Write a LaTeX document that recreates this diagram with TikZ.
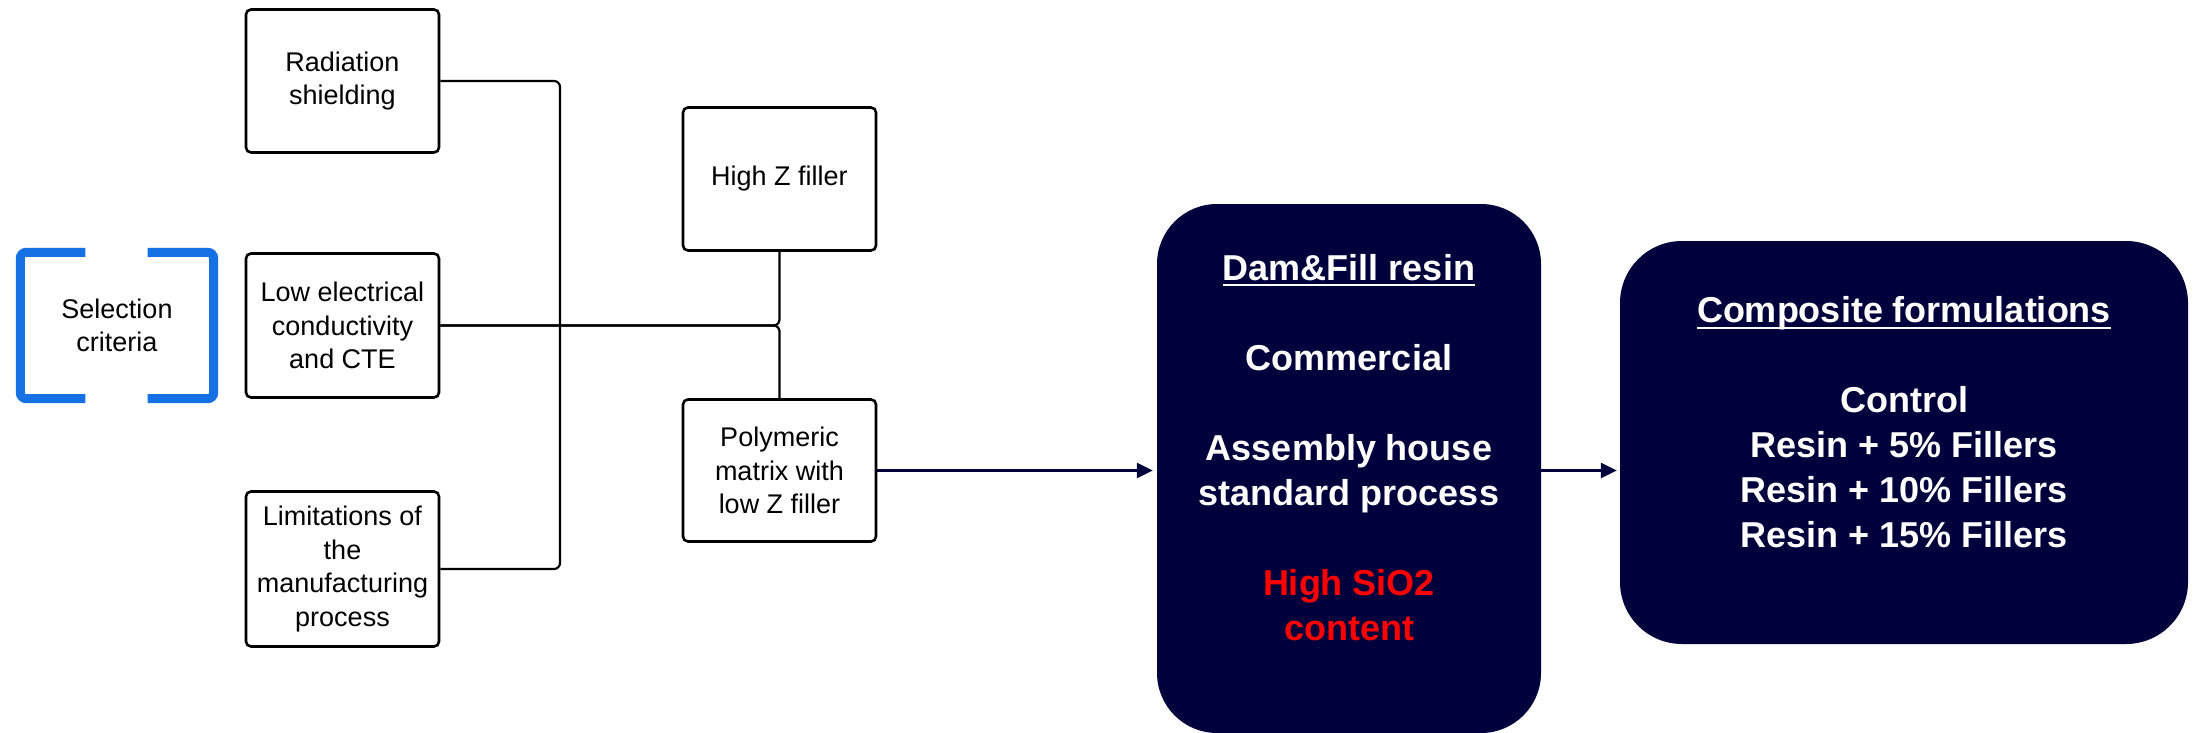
\documentclass[tikz,border=0pt]{standalone}
\usepackage{fontspec}
\setmainfont{Liberation Sans}
\usetikzlibrary{arrows.meta,calc}
\definecolor{navy}{RGB}{0,0,60}
\definecolor{bracketblue}{RGB}{22,114,228}
\definecolor{alertred}{RGB}{255,0,0}
% heading with a rule drawn a fixed distance under the baseline
\newcommand\ulbar[2]{\setbox0\hbox{#2}\rlap{\rule[-#1]{\wd0}{2pt}}\box0}

\begin{document}
\begin{tikzpicture}[x=1pt,y=-1pt,
  crit/.style={draw=black, line width=2.6pt, rounded corners=5pt,
    minimum width=193pt, align=center, inner sep=0pt,
    font=\fontsize{27}{33.5}\selectfont},
  link/.style={draw=black, line width=2.2pt, rounded corners=6pt},
  stage/.style={fill=navy, rounded corners=60pt, inner sep=0pt},
  stagetext/.style={text=white, align=center, anchor=north, inner sep=0pt,
    font=\bfseries\fontsize{36}{45}\selectfont},
  flow/.style={draw=navy, line width=2.4pt,
    -{Triangle[length=16pt,width=15pt]}}
]
\useasboundingbox (0,0) rectangle (2196,733);

% selection criteria, framed by two brackets
\node[minimum width=193pt, minimum height=146pt, inner sep=0pt, align=center,
  font=\fontsize{27}{33.5}\selectfont] (sel) at (117,325.5) {Selection\\criteria};
\draw[bracketblue, line width=9pt, rounded corners=6pt]
  ([xshift=65pt]sel.north west) -- (sel.north west) -- (sel.south west) -- ([xshift=65pt]sel.south west);
\draw[bracketblue, line width=9pt, rounded corners=6pt]
  ([xshift=-66pt]sel.north east) -- (sel.north east) -- (sel.south east) -- ([xshift=-66pt]sel.south east);

% criteria
\node[crit, minimum height=143pt] (rad) at (342.5,81) {Radiation\\shielding};
\node[crit, minimum height=144pt] (low) at (342.5,325.5) {Low electrical\\conductivity\\and CTE};
\node[crit, minimum height=155pt] (lim) at (342.5,569) {Limitations of\\the\\manufacturing\\process};

% material choices
\node[crit, minimum height=143pt] (hz) at (779.5,179) {High Z filler};
\node[crit, minimum height=142pt] (poly) at (779.5,470.5) {Polymeric\\matrix with\\low Z filler};

% joining lines
\coordinate (bus) at (560,325.5);
\draw[link] (rad.east) -| (bus) |- (lim.east);
\draw[link] (hz.south) |- (low.east);
\draw[link] (poly.north) |- (low.east);

% resin and formulation stages
\node[stage, minimum width=384pt, minimum height=529pt] (dam) at (1349,468.5) {};
\node[stagetext] (damtxt) at (1349,254) {\ulbar{6pt}{Dam\&Fill resin}\\[45pt]
  Commercial\\[45pt]
  Assembly house\\standard process\\[45pt]
  \textcolor{alertred}{High SiO2}\\\textcolor{alertred}{content}};

\node[stage, minimum width=568pt, minimum height=403pt, rounded corners=62pt] (comp) at (1904,442.5) {};
\node[stagetext] (comptxt) at (1904,296) {\ulbar{7pt}{Composite formulations}\\[45pt]
  Control\\Resin + 5\% Fillers\\Resin + 10\% Fillers\\Resin + 15\% Fillers};

% flow arrows
\draw[flow, shorten >=4pt] (poly.east) -- (poly.east -| dam.west);
\draw[flow, shorten >=3pt] (dam.east |- poly.east) -- (poly.east -| comp.west);
\end{tikzpicture}
\end{document}
